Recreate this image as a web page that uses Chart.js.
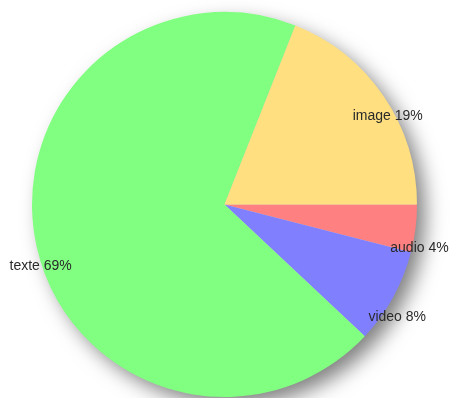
<!DOCTYPE html>
<html>
<head>
<meta charset="utf-8">
<script src="https://cdn.jsdelivr.net/npm/chart.js@4"></script>
<style>
  html, body { margin: 0; padding: 0; background: #fff; }
  #wrap { width: 454px; height: 398px; }
</style>
</head>
<body>
<div id="wrap"><canvas id="pieChart"></canvas></div>
<script>
const categories = ['audio', 'video', 'texte', 'image'];
const values = [4, 8, 69, 19];
const colors = ['#ff8080', '#8080ff', '#80ff80', '#ffdf80'];

// drop shadow under the whole pie
const pieShadow = {
  id: 'pieShadow',
  beforeDatasetsDraw(chart) {
    const arc = chart.getDatasetMeta(0).data[0];
    if (!arc) return;
    const ctx = chart.ctx;
    ctx.save();
    ctx.shadowColor = 'rgba(0,0,0,0.5)';
    ctx.shadowBlur = 20;
    ctx.shadowOffsetX = 9;
    ctx.shadowOffsetY = 9;
    ctx.fillStyle = '#ccc';
    ctx.beginPath();
    ctx.arc(arc.x, arc.y, arc.outerRadius - 1, 0, Math.PI * 2);
    ctx.fill();
    ctx.restore();
  }
};

// "name pct%" labels near the rim of each slice
const sliceLabels = {
  id: 'sliceLabels',
  afterDatasetsDraw(chart) {
    const ctx = chart.ctx;
    const total = values.reduce((a, b) => a + b, 0);
    ctx.save();
    ctx.font = '14px "Liberation Sans", Arial, sans-serif';
    ctx.fillStyle = '#2a2a2a';
    ctx.textAlign = 'center';
    ctx.textBaseline = 'middle';
    chart.getDatasetMeta(0).data.forEach((arc, i) => {
      const mid = (arc.startAngle + arc.endAngle) / 2;
      const r = arc.outerRadius;
      const x = arc.x + r * Math.cos(mid) + 4;
      const y = arc.y + r * Math.sin(mid) + 20;
      const pct = Math.round(values[i] / total * 100);
      ctx.fillText(categories[i] + ' ' + pct + '%', x, y);
    });
    ctx.restore();
  }
};

new Chart(document.getElementById('pieChart'), {
  type: 'pie',
  data: {
    labels: categories,
    datasets: [{
      data: values,
      backgroundColor: colors,
      borderWidth: 0
    }]
  },
  options: {
    responsive: true,
    maintainAspectRatio: false,
    animation: false,
    rotation: 90,
    layout: { padding: { top: 12, bottom: 1, left: 0, right: 5 } },
    plugins: {
      legend: { display: false },
      tooltip: { enabled: false }
    }
  },
  plugins: [pieShadow, sliceLabels]
});
</script>
</body>
</html>
